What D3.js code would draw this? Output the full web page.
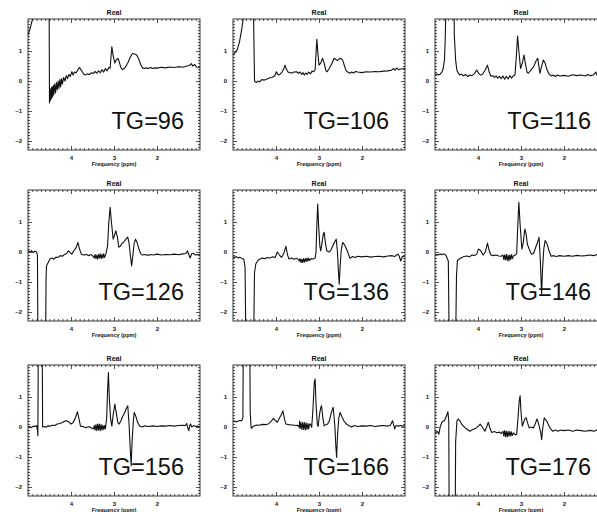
<html>
<head>
<script src="https://d3js.org/d3.v7.min.js"></script>
<style>
  body { margin: 0; background: #fff; }
  svg text { font-family: "Liberation Sans", Arial, sans-serif; fill: #111; }
  .tick text { font-size: 6px; font-weight: bold; }
  .axis .domain { stroke: none; }
  .axis line { stroke: #222; stroke-width: 0.8; }
</style>
</head>
<body>
<svg id="fig" width="597" height="512"></svg>
<script>
// labels and major tick values
const labels = ['TG=96', 'TG=106', 'TG=116', 'TG=126', 'TG=136', 'TG=146', 'TG=156', 'TG=166', 'TG=176'];
const xTicks = [4, 3, 2];
const yTicks = [1, 0, -1, -2];
const xDomain = [5, 1];
const yDomain = [-2.3, 2.07];

// spectra: [ppm, real part]
const tg96 = [[5.00,1.53],[4.95,1.75],[4.89,2.1],[4.85,2.6],[4.80,3],[4.51,3],[4.50,-0.73],
  [4.49,-0.3],[4.48,-0.65],[4.47,-0.25],[4.46,-0.6],[4.45,-0.2],[4.44,-0.55],[4.43,-0.2],[4.42,-0.5],[4.41,-0.15],
  [4.40,-0.45],[4.38,-0.1],[4.36,-0.4],[4.34,-0.05],[4.32,-0.3],[4.30,0.0],[4.28,-0.25],[4.26,0.05],[4.24,-0.2],
  [4.22,0.08],[4.20,-0.1],[4.17,0.12],[4.14,0.0],[4.11,0.18],[4.08,0.08],[4.05,0.22],[4.02,0.15],[3.98,0.31],
  [3.95,0.2],[3.92,0.3],[3.88,0.28],[3.84,0.38],[3.80,0.45],[3.77,0.38],[3.74,0.32],[3.70,0.22],[3.67,0.2],
  [3.62,0.24],[3.57,0.22],[3.52,0.28],[3.48,0.25],[3.44,0.32],[3.40,0.26],[3.36,0.34],[3.32,0.28],[3.28,0.38],
  [3.24,0.3],[3.20,0.42],[3.16,0.34],[3.12,0.45],[3.09,0.43],[3.07,0.8],[3.05,1.14],[3.02,0.85],[2.98,0.6],
  [2.95,0.7],[2.91,0.76],[2.88,0.65],[2.84,0.45],[2.80,0.38],[2.76,0.42],[2.72,0.5],[2.68,0.6],[2.62,0.8],
  [2.57,0.92],[2.52,0.9],[2.47,0.87],[2.42,0.72],[2.38,0.55],[2.34,0.44],[2.30,0.42],[2.25,0.44],[2.20,0.42],
  [2.15,0.45],[2.10,0.42],[2.05,0.44],[2.00,0.43],[1.90,0.46],[1.80,0.44],[1.70,0.47],[1.60,0.45],[1.50,0.48],
  [1.40,0.46],[1.30,0.5],[1.25,0.52],[1.20,0.58],[1.17,0.5],[1.12,0.55],[1.08,0.47],[1.00,0.45]];

const tg106 = [[5.00,0.87],[4.97,0.92],[4.93,0.98],[4.90,1.05],[4.85,1.3],[4.80,1.7],[4.76,2.1],[4.72,3],[4.53,3],
  [4.50,0.05],[4.49,-0.02],[4.46,-0.05],[4.42,0.0],[4.38,-0.03],[4.33,0.05],[4.28,0.03],[4.22,0.06],[4.16,0.1],
  [4.10,0.12],[4.05,0.15],[4.02,0.2],[3.99,0.31],[3.95,0.2],[3.91,0.22],[3.86,0.3],[3.82,0.4],[3.79,0.53],
  [3.76,0.4],[3.72,0.3],[3.68,0.28],[3.63,0.27],[3.58,0.3],[3.52,0.31],[3.48,0.26],[3.44,0.3],[3.40,0.22],
  [3.37,0.28],[3.34,0.2],[3.31,0.27],[3.28,0.22],[3.24,0.3],[3.20,0.24],[3.16,0.33],[3.13,0.31],[3.09,0.37],
  [3.07,0.9],[3.05,1.39],[3.03,1.0],[3.00,0.53],[2.96,0.6],[2.92,0.76],[2.88,0.6],[2.84,0.35],[2.81,0.31],
  [2.77,0.4],[2.73,0.5],[2.69,0.62],[2.65,0.76],[2.61,0.72],[2.57,0.68],[2.53,0.74],[2.49,0.76],[2.45,0.7],
  [2.41,0.52],[2.37,0.35],[2.33,0.3],[2.28,0.26],[2.24,0.3],[2.20,0.27],[2.15,0.32],[2.10,0.3],[2.00,0.28],
  [1.90,0.31],[1.80,0.3],[1.70,0.32],[1.60,0.31],[1.50,0.33],[1.40,0.34],[1.32,0.36],[1.26,0.42],[1.23,0.36],
  [1.19,0.44],[1.15,0.38],[1.10,0.4],[1.00,0.42]];

const tg116 = [[5.00,0.2],[4.96,0.24],[4.92,0.2],[4.88,0.23],[4.84,0.3],[4.81,0.42],[4.78,0.7],[4.76,1.5],[4.74,3],
  [4.56,3],[4.55,1.5],[4.52,0.7],[4.49,0.35],[4.46,0.28],[4.43,0.2],[4.38,0.23],[4.34,0.17],[4.29,0.22],
  [4.24,0.15],[4.19,0.2],[4.14,0.18],[4.08,0.25],[4.03,0.37],[3.98,0.25],[3.94,0.2],[3.90,0.22],[3.84,0.35],
  [3.78,0.53],[3.74,0.3],[3.70,0.16],[3.66,0.18],[3.62,0.12],[3.58,0.17],[3.54,0.1],[3.50,0.16],[3.46,0.08],
  [3.42,0.17],[3.38,0.06],[3.34,0.16],[3.30,0.07],[3.26,0.18],[3.22,0.1],[3.18,0.17],[3.14,0.2],[3.11,0.8],
  [3.08,1.5],[3.05,1.0],[3.01,0.42],[2.97,0.6],[2.93,0.87],[2.90,0.6],[2.86,0.3],[2.83,0.26],[2.78,0.35],
  [2.74,0.42],[2.70,0.5],[2.64,0.7],[2.61,0.76],[2.58,0.45],[2.56,0.26],[2.52,0.5],[2.48,0.7],[2.44,0.6],
  [2.40,0.4],[2.36,0.26],[2.30,0.17],[2.25,0.2],[2.20,0.15],[2.15,0.2],[2.10,0.17],[2.00,0.19],[1.90,0.16],
  [1.80,0.21],[1.70,0.18],[1.60,0.2],[1.50,0.17],[1.45,0.22],[1.38,0.18],[1.32,0.2],[1.26,0.3],[1.23,0.18],
  [1.18,0.22],[1.10,0.2],[1.00,0.21]];

const tg126 = [[5.00,0.04],[4.95,0.0],[4.92,0.05],[4.88,-0.02],[4.84,0.03],[4.80,0.0],[4.78,-0.1],[4.77,-3],[4.59,-3],
  [4.58,-0.9],[4.57,-0.46],[4.53,-0.35],[4.49,-0.23],[4.44,-0.2],[4.40,-0.24],[4.35,-0.17],[4.30,-0.18],
  [4.25,-0.12],[4.20,-0.14],[4.15,-0.08],[4.10,-0.05],[4.06,0.04],[4.02,-0.02],[3.98,-0.07],[3.93,0.05],
  [3.88,0.15],[3.84,0.32],[3.80,0.1],[3.76,-0.07],[3.70,-0.1],[3.64,-0.08],[3.58,-0.12],[3.54,-0.08],
  [3.50,-0.12],[3.46,-0.2],[3.44,-0.08],[3.42,-0.22],[3.40,-0.1],[3.38,-0.24],[3.36,-0.08],[3.34,-0.2],
  [3.32,-0.06],[3.30,-0.22],[3.28,-0.08],[3.26,-0.2],[3.24,-0.06],[3.22,-0.18],[3.19,-0.07],[3.15,0.2],
  [3.12,1.0],[3.09,1.49],[3.06,1.0],[3.02,0.43],[2.99,0.55],[2.96,0.71],[2.92,0.5],[2.89,0.16],[2.85,0.2],
  [2.81,0.3],[2.78,0.32],[2.73,0.42],[2.68,0.5],[2.65,0.3],[2.62,-0.1],[2.59,-0.46],[2.56,-0.1],[2.53,0.3],
  [2.50,0.43],[2.46,0.3],[2.42,0.1],[2.38,-0.05],[2.34,-0.1],[2.28,-0.08],[2.22,-0.11],[2.15,-0.08],
  [2.08,-0.1],[2.00,-0.07],[1.90,-0.1],[1.80,-0.08],[1.70,-0.09],[1.60,-0.07],[1.50,-0.09],[1.40,-0.06],
  [1.33,-0.05],[1.29,0.04],[1.26,-0.08],[1.23,-0.2],[1.19,-0.05],[1.15,-0.05],[1.10,-0.1],[1.05,-0.08],[1.00,-0.1]];

const tg136 = [[5.00,-0.15],[4.96,-0.18],[4.92,-0.15],[4.88,-0.2],[4.84,-0.17],[4.79,-0.22],[4.75,-0.23],
  [4.72,-0.5],[4.70,-3],[4.52,-3],[4.50,-0.7],[4.47,-0.4],[4.42,-0.28],[4.37,-0.23],[4.32,-0.2],[4.26,-0.22],
  [4.20,-0.18],[4.14,-0.2],[4.08,-0.16],[4.02,-0.18],[3.97,0.0],[3.92,-0.1],[3.87,-0.18],[3.82,-0.05],
  [3.77,0.19],[3.73,-0.1],[3.70,-0.23],[3.64,-0.2],[3.58,-0.24],[3.52,-0.21],[3.48,-0.25],[3.46,-0.3],
  [3.44,-0.22],[3.42,-0.35],[3.40,-0.24],[3.38,-0.35],[3.36,-0.22],[3.34,-0.34],[3.32,-0.22],[3.30,-0.32],
  [3.28,-0.2],[3.26,-0.3],[3.24,-0.2],[3.22,-0.28],[3.18,-0.22],[3.14,-0.23],[3.09,-0.2],[3.07,0.0],
  [3.05,0.9],[3.03,1.6],[3.01,0.9],[2.98,0.2],[2.96,0.04],[2.93,0.3],[2.90,0.6],[2.88,0.66],[2.85,0.3],
  [2.82,0.04],[2.77,0.0],[2.73,0.05],[2.68,0.2],[2.63,0.35],[2.60,0.43],[2.57,0.0],[2.55,-0.6],[2.53,-1.07],
  [2.51,-0.5],[2.48,0.1],[2.45,0.32],[2.41,0.25],[2.36,0.1],[2.32,-0.05],[2.28,-0.21],[2.22,-0.15],
  [2.16,-0.18],[2.10,-0.14],[2.00,-0.16],[1.90,-0.14],[1.80,-0.17],[1.70,-0.15],[1.60,-0.14],[1.50,-0.16],
  [1.40,-0.13],[1.30,-0.12],[1.24,-0.15],[1.20,-0.1],[1.16,-0.07],[1.13,-0.15],[1.10,-0.3],[1.06,-0.15],[1.00,-0.14]];

const tg146 = [[5.00,-0.1],[4.95,-0.08],[4.92,-0.1],[4.88,-0.06],[4.84,-0.09],[4.79,-0.06],[4.75,-0.1],
  [4.69,-0.3],[4.67,-3],[4.52,-3],[4.50,-0.8],[4.48,-0.29],[4.43,-0.22],[4.38,-0.18],[4.32,-0.15],
  [4.26,-0.13],[4.20,-0.16],[4.14,-0.1],[4.08,-0.12],[4.03,-0.07],[3.99,0.1],[3.94,0.05],[3.88,-0.1],
  [3.83,0.0],[3.78,0.3],[3.74,0.05],[3.70,-0.1],[3.65,-0.12],[3.58,-0.1],[3.52,-0.13],[3.46,-0.14],
  [3.42,-0.1],[3.40,-0.25],[3.38,-0.1],[3.36,-0.26],[3.34,-0.08],[3.32,-0.28],[3.30,-0.1],[3.28,-0.3],
  [3.26,-0.1],[3.24,-0.25],[3.22,-0.08],[3.20,-0.22],[3.17,-0.12],[3.13,-0.1],[3.10,-0.05],[3.08,0.7],
  [3.05,1.66],[3.02,0.9],[2.98,0.1],[2.95,0.3],[2.91,0.77],[2.88,0.6],[2.85,0.25],[2.81,0.1],[2.76,-0.07],
  [2.71,-0.05],[2.66,0.15],[2.62,0.3],[2.58,0.49],[2.55,-0.3],[2.53,-1.1],[2.52,-1.4],[2.50,-0.6],[2.47,0.1],
  [2.44,0.38],[2.40,0.3],[2.35,0.05],[2.30,-0.14],[2.24,-0.12],[2.18,-0.15],[2.10,-0.12],[2.00,-0.14],
  [1.90,-0.12],[1.80,-0.14],[1.70,-0.11],[1.60,-0.13],[1.50,-0.12],[1.40,-0.1],[1.30,-0.12],[1.24,-0.08],
  [1.20,-0.11],[1.12,-0.1],[1.00,-0.1]];

const tg156 = [[5.00,0.0],[4.96,0.02],[4.92,-0.02],[4.88,0.03],[4.84,0.02],[4.80,0.05],[4.78,-0.1],[4.77,-0.29],
  [4.76,3],[4.67,3],[4.66,0.0],[4.62,0.02],[4.58,-0.01],[4.54,0.04],[4.49,0.03],[4.44,0.06],[4.38,0.05],
  [4.32,0.1],[4.26,0.12],[4.20,0.15],[4.14,0.2],[4.10,0.21],[4.05,0.17],[4.00,0.1],[3.95,0.15],[3.90,0.3],
  [3.85,0.51],[3.81,0.25],[3.78,0.03],[3.72,0.02],[3.66,-0.02],[3.60,0.01],[3.56,0.0],[3.52,-0.04],
  [3.48,-0.06],[3.46,0.05],[3.44,-0.1],[3.42,0.08],[3.40,-0.12],[3.38,0.1],[3.36,-0.1],[3.34,0.1],
  [3.32,-0.12],[3.30,0.08],[3.28,-0.1],[3.26,0.06],[3.24,-0.08],[3.22,0.05],[3.20,-0.06],[3.17,0.3],
  [3.15,1.2],[3.13,1.82],[3.11,1.0],[3.08,0.3],[3.05,0.03],[3.02,0.4],[2.98,0.77],[2.95,0.5],[2.91,0.15],
  [2.88,0.1],[2.84,0.2],[2.80,0.35],[2.76,0.45],[2.72,0.6],[2.68,0.71],[2.65,0.1],[2.62,-0.8],[2.60,-1.29],
  [2.58,-0.5],[2.55,0.2],[2.53,0.49],[2.49,0.35],[2.45,0.15],[2.40,0.03],[2.34,0.0],[2.28,0.04],[2.20,0.02],
  [2.10,0.04],[2.00,0.02],[1.90,0.04],[1.80,0.03],[1.70,0.05],[1.60,0.03],[1.50,0.05],[1.40,0.06],
  [1.34,0.05],[1.31,0.12],[1.28,-0.05],[1.26,-0.12],[1.24,0.05],[1.22,0.1],[1.19,0.0],[1.15,0.05],
  [1.10,0.02],[1.05,0.03],[1.00,0.0]];

const tg166 = [[5.00,0.18],[4.96,0.2],[4.92,0.17],[4.88,0.2],[4.84,0.22],[4.80,0.21],[4.77,0.3],[4.76,3],[4.61,3],
  [4.60,0.5],[4.58,0.0],[4.57,-0.04],[4.53,0.02],[4.49,0.05],[4.45,0.07],[4.39,0.06],[4.32,0.09],[4.25,0.08],
  [4.18,0.1],[4.12,0.18],[4.08,0.25],[4.06,0.29],[4.02,0.22],[3.97,0.16],[3.92,0.3],[3.88,0.4],[3.84,0.54],
  [3.80,0.25],[3.77,0.1],[3.70,0.08],[3.64,0.07],[3.60,0.07],[3.54,0.05],[3.50,0.06],[3.46,0.0],[3.45,0.2],
  [3.44,-0.05],[3.42,0.15],[3.40,-0.08],[3.38,0.16],[3.36,-0.08],[3.34,0.15],[3.32,-0.1],[3.30,0.14],
  [3.28,-0.08],[3.26,0.12],[3.24,-0.06],[3.22,0.1],[3.20,0.1],[3.17,-0.01],[3.14,0.6],[3.11,1.5],[3.09,1.6],
  [3.07,0.8],[3.04,0.1],[3.02,0.02],[2.99,0.4],[2.96,0.65],[2.94,0.71],[2.91,0.3],[2.88,0.04],[2.84,0.08],
  [2.80,0.1],[2.76,0.2],[2.72,0.45],[2.67,0.66],[2.63,0.0],[2.61,-0.6],[2.59,-1.01],[2.57,-0.3],[2.54,0.3],
  [2.51,0.49],[2.47,0.35],[2.42,0.2],[2.36,0.1],[2.30,0.04],[2.24,0.0],[2.18,0.05],[2.10,0.02],[2.00,0.04],
  [1.90,0.03],[1.80,0.05],[1.70,0.02],[1.60,0.04],[1.50,0.05],[1.40,0.03],[1.34,0.06],[1.29,0.21],
  [1.26,0.05],[1.24,-0.06],[1.21,0.05],[1.15,0.03],[1.10,0.05],[1.05,0.03],[1.00,0.04]];

const tg176 = [[5.00,-0.15],[4.98,-0.18],[4.94,-0.15],[4.91,-0.24],[4.88,0.0],[4.84,0.16],[4.80,0.2],[4.78,0.21],
  [4.74,0.35],[4.70,0.51],[4.68,0.2],[4.67,-3],[4.53,-3],[4.52,-0.5],[4.49,0.2],[4.46,0.27],[4.42,0.2],
  [4.38,0.1],[4.34,0.03],[4.28,-0.05],[4.23,-0.1],[4.19,-0.14],[4.12,-0.08],[4.06,-0.05],[4.02,0.0],
  [3.99,0.03],[3.95,0.1],[3.90,0.0],[3.84,-0.14],[3.80,0.0],[3.76,0.16],[3.72,-0.05],[3.68,-0.18],
  [3.62,-0.15],[3.56,-0.19],[3.50,-0.17],[3.46,-0.22],[3.42,-0.14],[3.40,-0.3],[3.38,-0.12],[3.36,-0.32],
  [3.34,-0.14],[3.32,-0.33],[3.30,-0.14],[3.28,-0.3],[3.26,-0.15],[3.24,-0.3],[3.22,-0.16],[3.20,-0.28],
  [3.17,-0.2],[3.13,-0.26],[3.10,-0.24],[3.07,0.3],[3.04,0.9],[3.02,1.04],[3.00,0.5],[2.97,0.03],[2.94,0.15],
  [2.91,0.28],[2.88,0.31],[2.85,0.15],[2.81,-0.03],[2.76,0.0],[2.71,-0.03],[2.67,0.1],[2.63,0.27],
  [2.60,0.15],[2.57,0.0],[2.54,-0.2],[2.52,-0.42],[2.50,-0.1],[2.46,0.31],[2.43,0.25],[2.40,0.2],[2.37,0.1],
  [2.32,-0.05],[2.26,-0.14],[2.20,-0.1],[2.14,-0.14],[2.08,-0.1],[2.00,-0.12],[1.90,-0.1],[1.80,-0.14],
  [1.70,-0.1],[1.60,-0.12],[1.50,-0.14],[1.40,-0.11],[1.30,-0.14],[1.24,-0.1],[1.20,-0.13],[1.10,-0.1],[1.00,-0.12]];

const spectra = [tg96, tg106, tg116, tg126, tg136, tg146, tg156, tg166, tg176];

const svg = d3.select('#fig');
const colLeft = [28, 233, 435];
const rowTop = [19, 190, 365];
const w = 172, h = 131;

const x = d3.scaleLinear().domain(xDomain).range([0, w]);
const y = d3.scaleLinear().domain(yDomain).range([h, 0]);

const xMinor = d3.range(11, 50).map(d => d / 10).filter(d => !xTicks.includes(d));
const yMinor = d3.range(-22, 21).map(d => d / 10).filter(d => !yTicks.includes(d));

const line = d3.line().x(d => x(d[0])).y(d => y(d[1]));

spectra.forEach((data, i) => {
  const g = svg.append('g')
    .attr('transform', `translate(${colLeft[i % 3]},${rowTop[Math.floor(i / 3)]})`);

  g.append('clipPath').attr('id', 'clip' + i)
    .append('rect').attr('width', w).attr('height', h);

  // minor ticks, inward on all four sides
  g.append('g').attr('class', 'axis').attr('transform', `translate(0,${h})`)
    .call(d3.axisBottom(x).tickValues(xMinor).tickSize(-2).tickFormat(''));
  g.append('g').attr('class', 'axis')
    .call(d3.axisTop(x).tickValues(xMinor).tickSize(-2).tickFormat(''));
  g.append('g').attr('class', 'axis')
    .call(d3.axisLeft(y).tickValues(yMinor).tickSize(-2).tickFormat(''));
  g.append('g').attr('class', 'axis').attr('transform', `translate(${w},0)`)
    .call(d3.axisRight(y).tickValues(yMinor).tickSize(-2).tickFormat(''));

  // major ticks with labels
  g.append('g').attr('class', 'axis').attr('transform', `translate(0,${h})`)
    .call(d3.axisBottom(x).tickValues(xTicks).tickSizeInner(-4).tickSizeOuter(0).tickPadding(6).tickFormat(d3.format('d')));
  g.append('g').attr('class', 'axis')
    .call(d3.axisTop(x).tickValues(xTicks).tickSizeInner(-4).tickSizeOuter(0).tickFormat(''));
  g.append('g').attr('class', 'axis')
    .call(d3.axisLeft(y).tickValues(yTicks).tickSizeInner(-4).tickSizeOuter(0).tickPadding(6).tickFormat(d => d < 0 ? '\u2013' + Math.abs(d) : d));
  g.append('g').attr('class', 'axis').attr('transform', `translate(${w},0)`)
    .call(d3.axisRight(y).tickValues(yTicks).tickSizeInner(-4).tickSizeOuter(0).tickFormat(''));

  g.append('path')
    .datum(data)
    .attr('clip-path', `url(#clip${i})`)
    .attr('fill', 'none')
    .attr('stroke', '#111')
    .attr('stroke-width', 1.1)
    .attr('stroke-linejoin', 'round')
    .attr('d', line);

  g.append('rect')
    .attr('width', w).attr('height', h)
    .attr('fill', 'none').attr('stroke', '#222').attr('stroke-width', 0.9);

  g.append('text')
    .attr('x', w / 2).attr('y', -4)
    .attr('text-anchor', 'middle')
    .attr('font-size', 7).attr('font-weight', 'bold')
    .text('Real');

  g.append('text')
    .attr('x', w / 2).attr('y', h + 16)
    .attr('text-anchor', 'middle')
    .attr('font-size', 5.5).attr('font-weight', 'bold')
    .text('Frequency (ppm)');

  g.append('text')
    .attr('x', w - 16).attr('y', 110)
    .attr('text-anchor', 'end')
    .attr('font-size', 23.5)
    .attr('fill', '#222')
    .text(labels[i]);
});
</script>
</body>
</html>
